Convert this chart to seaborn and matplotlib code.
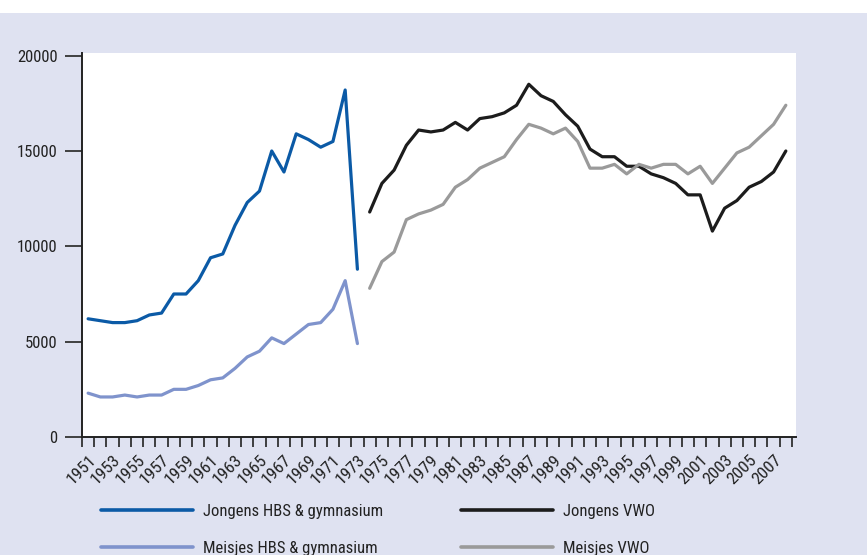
import numpy as np
import pandas as pd
import seaborn as sns
import matplotlib.pyplot as plt
import matplotlib.font_manager as fm
from matplotlib.patches import Rectangle
from matplotlib.transforms import ScaledTranslation

years_hbs = list(range(1951, 1974))
years_vwo = list(range(1974, 2009))

jongens_hbs = [6200, 6100, 6000, 6000, 6100, 6400, 6500, 7500, 7500, 8200,
               9400, 9600, 11100, 12300, 12900, 15000, 13900, 15900, 15600, 15200,
               15500, 18200, 8800]
meisjes_hbs = [2300, 2100, 2100, 2200, 2100, 2200, 2200, 2500, 2500, 2700,
               3000, 3100, 3600, 4200, 4500, 5200, 4900, 5400, 5900, 6000,
               6700, 8200, 4900]
jongens_vwo = [11800, 13300, 14000, 15300, 16100, 16000, 16100, 16500, 16100, 16700,
               16800, 17000, 17400, 18500, 17900, 17600, 16900, 16300, 15100, 14700,
               14700, 14200, 14200, 13800, 13600, 13300, 12700, 12700, 10800, 12000,
               12400, 13100, 13400, 13900, 15000]
meisjes_vwo = [7800, 9200, 9700, 11400, 11700, 11900, 12200, 13100, 13500, 14100,
               14400, 14700, 15600, 16400, 16200, 15900, 16200, 15500, 14100, 14100,
               14300, 13800, 14300, 14100, 14300, 14300, 13800, 14200, 13300, 14100,
               14900, 15200, 15800, 16400, 17400]

series = ['Jongens HBS & gymnasium', 'Meisjes HBS & gymnasium', 'Jongens VWO', 'Meisjes VWO']
colors = ['#0b5aa6', '#7f93cc', '#1c1c1c', '#9a9a9a']

df = pd.concat([
    pd.DataFrame({'jaar': years_hbs, 'aantal': jongens_hbs, 'groep': series[0]}),
    pd.DataFrame({'jaar': years_hbs, 'aantal': meisjes_hbs, 'groep': series[1]}),
    pd.DataFrame({'jaar': years_vwo, 'aantal': jongens_vwo, 'groep': series[2]}),
    pd.DataFrame({'jaar': years_vwo, 'aantal': meisjes_vwo, 'groep': series[3]}),
])

sns.set_style('ticks')

# prefer a narrow sans face if one is installed, else Liberation Sans
narrow_names = ['Liberation Sans Narrow', 'Roboto Condensed', 'Open Sans Condensed',
                'DejaVu Sans', 'Noto Sans']
narrow = None
for name in narrow_names:
    for f in fm.fontManager.ttflist:
        if f.name == name and f.style == 'normal' and f.weight in (400, 'normal', 'regular') \
                and (f.stretch == 'condensed' or 'Narrow' in name or 'Condensed' in name):
            narrow = f
            break
    if narrow is not None:
        break
if narrow is not None:
    plt.rcParams['font.family'] = [narrow.name, 'DejaVu Sans']
    plt.rcParams['font.stretch'] = narrow.stretch
    tk_sz, leg_sz = 12, 12
else:
    plt.rcParams['font.family'] = ['Liberation Sans', 'DejaVu Sans']
    tk_sz, leg_sz = 11, 11

bg = '#dfe2f1'
fig = plt.figure(figsize=(8.67, 5.55), dpi=100, facecolor=bg)
fig.patches.append(Rectangle((0, 1 - 13 / 555), 1, 13 / 555, transform=fig.transFigure,
                             facecolor='white', edgecolor='none', zorder=0))
ax = fig.add_axes([82 / 867, 1 - 437 / 555, (796 - 82) / 867, (437 - 53) / 555])
ax.set_facecolor('white')

sns.lineplot(data=df, x='jaar', y='aantal', hue='groep', hue_order=series,
             palette=colors, linewidth=2.3, ax=ax, legend=True)

ax.set_xlim(1950.5, 2008.83)
ax.set_ylim(0, 20140)
ax.set_yticks([0, 5000, 10000, 15000, 20000])
ax.set_xticks(list(range(1951, 2008, 2)))
ax.set_xticklabels([str(y) for y in range(1951, 2008, 2)], rotation=45, ha='right',
                   rotation_mode='anchor', fontsize=tk_sz + 0.5, color='#222222')
shift = ScaledTranslation(5 / 72, 0, fig.dpi_scale_trans)
for lbl in ax.get_xticklabels():
    lbl.set_transform(lbl.get_transform() + shift)
ax.set_xticks(np.arange(1950.5, 2009, 1), minor=True)
ax.tick_params(axis='x', which='major', length=0, pad=11)
ax.tick_params(axis='x', which='minor', length=7, width=1.2, color='#222222')
ax.tick_params(axis='y', length=12.5, width=1.3, color='#333333', labelsize=tk_sz,
               labelcolor='#222222', pad=5)
ax.set_xlabel('')
ax.set_ylabel('')
sns.despine(ax=ax)
for side in ['left', 'bottom']:
    ax.spines[side].set_color('#222222')
    ax.spines[side].set_linewidth(1.4)

handles, labels = ax.get_legend_handles_labels()
ax.get_legend().remove()
for h in handles:
    h.set_linewidth(2.6)
leg_kw = dict(loc='upper left', ncol=1, frameon=False, fontsize=leg_sz, handlelength=5.5,
              handletextpad=0.6, labelspacing=1.3, borderaxespad=0, borderpad=0,
              labelcolor='#222222')
fig.legend(handles[:2], labels[:2], bbox_to_anchor=(101 / 867, 1 - 504 / 555), **leg_kw)
fig.legend(handles[2:], labels[2:], bbox_to_anchor=(461 / 867, 1 - 504 / 555), **leg_kw)

fig.savefig('out.png', dpi=100, facecolor=bg)
